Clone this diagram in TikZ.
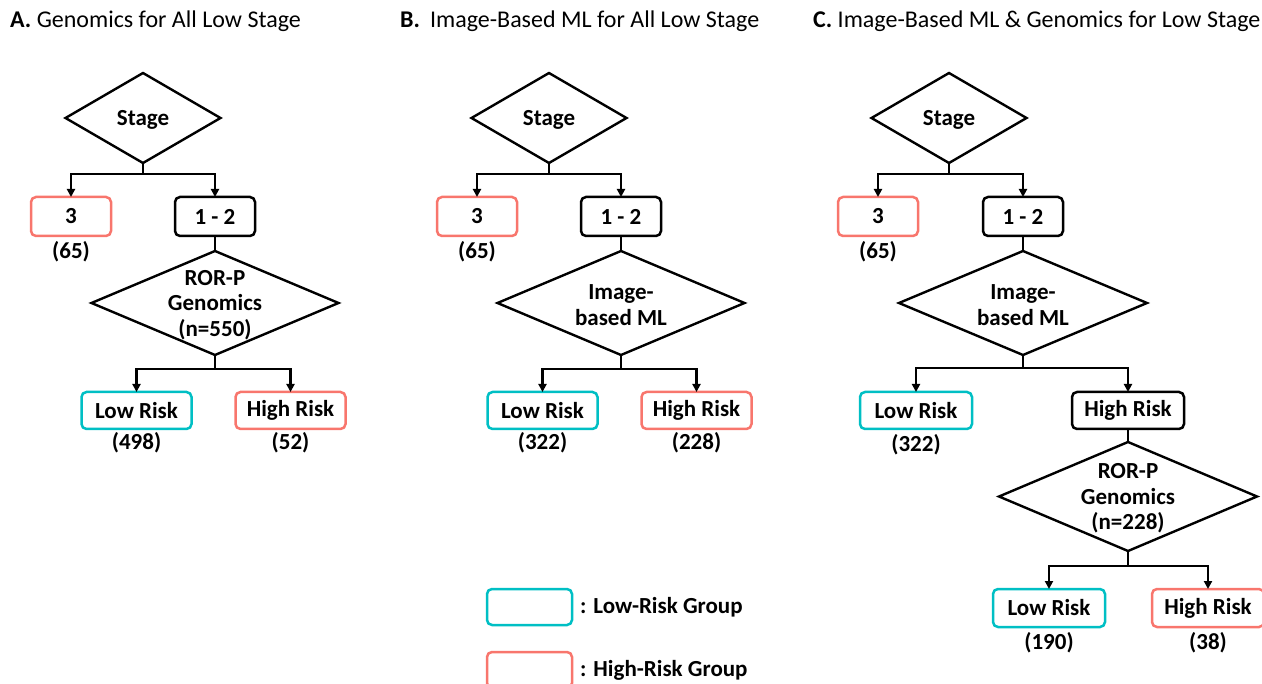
\documentclass[tikz,border=0pt]{standalone}
\usepackage{fontspec}
\setmainfont{Carlito}
\usetikzlibrary{shapes.geometric,arrows.meta}
\definecolor{hr}{HTML}{F8766D}
\definecolor{lr}{HTML}{00BFC4}
\newcommand\nfs{\fontsize{23}{25.5}\selectfont\bfseries}
\newcommand\tfs{\fontsize{24}{28}\selectfont}
\tikzset{
  box/.style={draw, rounded corners=5, line width=2.5, minimum width=80, minimum height=39, inner sep=0, outer sep=0, font=\nfs},
  hbox/.style={box, draw=hr},
  lbox/.style={box, draw=lr},
  nbox/.style={box, draw=black},
  wide/.style={minimum width=110, minimum height=37},
  dia/.style={diamond, draw, line width=2.4, inner sep=0, outer sep=0},
  dtext/.style={font=\nfs, align=center, inner sep=0, yshift=-2},
  cnt/.style={font=\nfs, inner sep=0},
  ttl/.style={anchor=base west, inner sep=0, font=\tfs},
  arr/.style={line width=2.2, -{Triangle[length=8,width=8]}},
  ln/.style={line width=2.2},
}
\begin{document}
\begin{tikzpicture}[x=1pt, y=-1pt]
\useasboundingbox (0,0) rectangle (1262,684);

% titles
\node[ttl] (tA) at (10,28) {\textbf{A.} Genomics for All Low Stage};
\node[ttl] (tB) at (400,28) {\textbf{B.}\hspace{10pt}Image-Based ML for All Low Stage};
\node[ttl] (tC) at (813,28) {\textbf{C.} Image-Based ML \& Genomics for Low Stage};

% ---------- Panel A ----------
\node[dia, minimum width=155, minimum height=90] (sA) at (143,118) {};
\node[dtext] (sAt) at (sA.center) {Stage};
\node[hbox] (b3A) at (71,216.5) {3};
\node[nbox] (b12A) at (215,216.5) {1 - 2};
\node[cnt] (c3A) at (71,252) {(65)};
\draw[arr] (sA.south) -- ++(0,11) coordinate (fA) -| (b3A.north);
\draw[arr] (fA) -| (b12A.north);
\node[dia, minimum width=247, minimum height=104] (gA) at (215,303) {};
\node[dtext] (gAt) at (gA.center) {ROR-P\\Genomics\\(n=550)};
\draw[ln] (b12A.south) -- (gA.north);
\node[lbox, wide] (lA) at (136.5,410.5) {Low Risk};
\node[hbox, wide] (hA) at (290.5,410.5) {High Risk};
\draw[arr] (gA.south) -- ++(0,14) coordinate (gfA) -| (lA.north);
\draw[arr] (gfA) -| (hA.north);
\node[cnt] (clA) at (136.5,443) {(498)};
\node[cnt] (chA) at (290.5,443) {(52)};

% ---------- Panel B ----------
\node[dia, minimum width=155, minimum height=90] (sB) at (549,118) {};
\node[dtext] (sBt) at (sB.center) {Stage};
\node[hbox] (b3B) at (477,216.5) {3};
\node[nbox] (b12B) at (621,216.5) {1 - 2};
\node[cnt] (c3B) at (477,252) {(65)};
\draw[arr] (sB.south) -- ++(0,11) coordinate (fB) -| (b3B.north);
\draw[arr] (fB) -| (b12B.north);
\node[dia, minimum width=247, minimum height=104] (mB) at (621,303) {};
\node[dtext] (mBt) at (mB.center) {Image-\\based ML};
\draw[ln] (b12B.south) -- (mB.north);
\node[lbox, wide] (lB) at (542.5,410.5) {Low Risk};
\node[hbox, wide] (hB) at (696.5,410.5) {High Risk};
\draw[arr] (mB.south) -- ++(0,14) coordinate (mfB) -| (lB.north);
\draw[arr] (mfB) -| (hB.north);
\node[cnt] (clB) at (542.5,443) {(322)};
\node[cnt] (chB) at (696.5,443) {(228)};

% ---------- Panel C ----------
\node[dia, minimum width=155, minimum height=90] (sC) at (949,118) {};
\node[dtext] (sCt) at (sC.center) {Stage};
\node[hbox] (b3C) at (878,216.5) {3};
\node[nbox] (b12C) at (1023,216.5) {1 - 2};
\node[cnt] (c3C) at (878,252) {(65)};
\draw[arr] (sC.south) -- ++(0,11) coordinate (fC) -| (b3C.north);
\draw[arr] (fC) -| (b12C.north);
\node[dia, minimum width=248, minimum height=104] (mC) at (1023,303) {};
\node[dtext] (mCt) at (mC.center) {Image-\\based ML};
\draw[ln] (b12C.south) -- (mC.north);
\node[lbox, wide, minimum width=112] (lC) at (916,410.5) {Low Risk};
\node[nbox, wide, minimum width=112] (hC) at (1128,410.5) {High Risk};
\draw[arr] (mC.south) -- ++(0,13) coordinate (mfC) -| (lC.north);
\draw[arr] (mfC) -| (hC.north);
\node[cnt] (clC) at (916,445) {(322)};
\node[dia, minimum width=258, minimum height=109] (gC) at (1128,496.5) {};
\node[dtext] (gCt) at (gC.center) {ROR-P\\Genomics\\(n=228)};
\draw[ln] (hC.south) -- (gC.north);
\node[lbox, wide, minimum width=112, minimum height=38] (lC2) at (1049,608) {Low Risk};
\node[hbox, wide, minimum width=112, minimum height=38] (hC2) at (1208,608) {High Risk};
\draw[arr] (gC.south) -- ++(0,15) coordinate (gfC) -| (lC2.north);
\draw[arr] (gfC) -| (hC2.north);
\node[cnt] (clC2) at (1049,643) {(190)};
\node[cnt] (chC2) at (1208,643) {(38)};

% ---------- Legend ----------
\node[lbox, minimum width=85, minimum height=36] (legL) at (529.5,607) {};
\node[cnt, anchor=west] (legLt) at (580,607) {: Low-Risk Group};
\node[hbox, minimum width=85, minimum height=36] (legH) at (529.5,670) {};
\node[cnt, anchor=west] (legHt) at (580,670) {: High-Risk Group};
\end{tikzpicture}
\end{document}
